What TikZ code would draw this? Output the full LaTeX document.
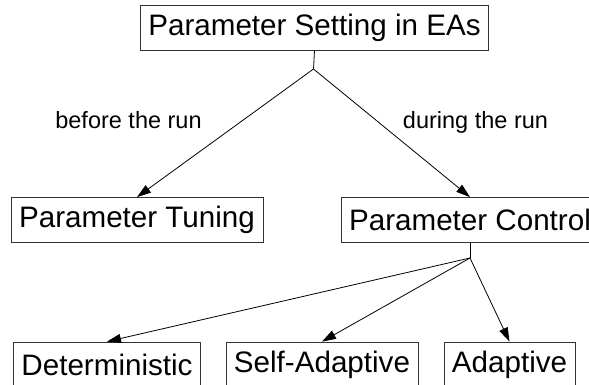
\documentclass[tikz,border=0pt]{standalone}
\usepackage{fontspec}
\setmainfont{Liberation Sans}
\usetikzlibrary{arrows.meta}
\begin{document}
\begin{tikzpicture}[x=1pt,y=1pt,line width=0.8pt,box node/.style={rectangle,draw=black!80,minimum height=45pt,inner xsep=8pt,inner ysep=0pt,font=\fontsize{29.6}{34}\selectfont},label node/.style={anchor=base,inner sep=0pt,font=\fontsize{23.5}{28}\selectfont},tip/.style={-{Triangle[length=14pt,width=9pt]}}]
\useasboundingbox (0,0) rectangle (589,-385);
\begin{scope}
\node[box node] (top) at (314.5,-27.5) {Parameter Setting in EAs};%root
\node[box node] (tuning) at (137,-220) {Parameter Tuning};%1
\node[box node] (control) at (470,-220) {Parameter Control};%2
\node[box node] (det) at (107,-364.5) {Deterministic};%3
\node[box node] (self) at (322,-364.5) {Self-Adaptive};%4
\node[box node] (adapt) at (509.5,-364.5) {Adaptive};%5
\node[label node] (before) at (128.5,-129) {before the run};
\node[label node] (during) at (475.5,-129) {during the run};
\coordinate (j1) at (313.5,-69);
\coordinate (j2) at (470,-258);
\end{scope}
\begin{scope}
\draw (top.south) -- (j1);
\draw[tip] (j1) -- (tuning.north);
\draw[tip] (j1) -- (control.north);
\draw (control.south) -- (j2);
\draw[tip] (j2) -- (det.north);
\draw[tip] (j2) -- (self.north);
\draw[tip] (j2) -- (adapt.north);
\end{scope}
\end{tikzpicture}
\end{document}
